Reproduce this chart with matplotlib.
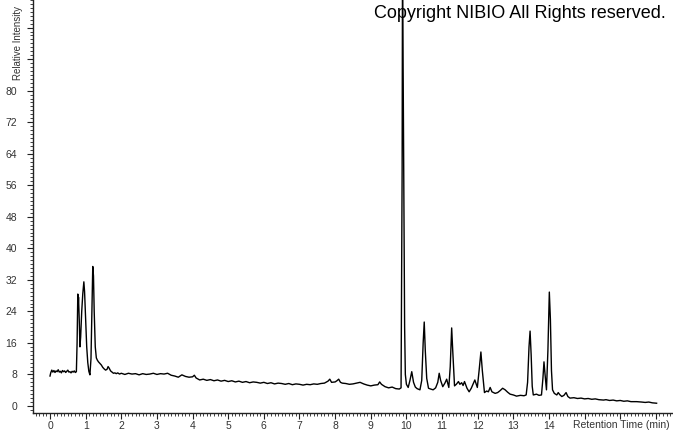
import matplotlib
matplotlib.use("Agg")
import matplotlib.pyplot as plt
from matplotlib.ticker import MultipleLocator, FixedLocator, FixedFormatter

# ---- data (retention time in min, relative intensity) ----
early_t = [0.00, 0.02, 0.05, 0.08, 0.11, 0.14, 0.17, 0.20, 0.23, 0.26, 0.29, 0.32, 0.35,
           0.38, 0.41, 0.44, 0.47, 0.50, 0.53, 0.56, 0.59, 0.62, 0.65, 0.68, 0.71, 0.74,
           0.76, 0.78, 0.79, 0.80, 0.82, 0.84, 0.86, 0.89, 0.92, 0.95, 0.97, 1.00, 1.03,
           1.06, 1.09, 1.12, 1.15, 1.18, 1.20, 1.22, 1.24, 1.27, 1.30, 1.33, 1.36, 1.40,
           1.44, 1.48, 1.52, 1.56, 1.60, 1.63, 1.66, 1.70, 1.74, 1.78, 1.82, 1.86, 1.90,
           1.95, 2.00]
early_i = [7.6, 8.4, 9.1, 8.6, 9.0, 8.5, 8.9, 8.7, 9.2, 8.6, 8.8, 8.4, 9.0,
           8.7, 8.9, 8.5, 8.8, 9.1, 8.6, 8.7, 8.4, 8.8, 8.6, 8.9, 8.5, 8.7,
           16.0, 28.4, 25.0, 27.6, 22.0, 15.0, 17.5, 24.0, 28.5, 31.5, 29.0, 22.0, 15.0,
           11.0, 8.8, 7.9, 12.0, 26.0, 35.4, 33.0, 24.0, 15.0, 12.2, 11.6, 11.2, 10.8,
           10.4, 9.8, 9.4, 9.1, 9.3, 10.0, 9.6, 8.9, 8.6, 8.3, 8.4, 8.2, 8.4,
           8.1, 8.3]

mid_t = [2.1, 2.2, 2.3, 2.4, 2.5, 2.6, 2.7, 2.8, 2.9, 3.0, 3.1, 3.2, 3.3, 3.4, 3.5, 3.6,
         3.7, 3.8, 3.9, 4.0, 4.05, 4.1, 4.2, 4.3, 4.4, 4.5, 4.6, 4.7, 4.8, 4.9, 5.0, 5.1,
         5.2, 5.3, 5.4, 5.5, 5.6, 5.7, 5.8, 5.9, 6.0, 6.1, 6.2, 6.3, 6.4, 6.5, 6.6, 6.7,
         6.8, 6.9, 7.0, 7.1, 7.2, 7.3, 7.4, 7.5, 7.6, 7.7, 7.8, 7.85, 7.9, 8.0, 8.05, 8.1,
         8.15, 8.2, 8.3, 8.4, 8.5, 8.6, 8.7, 8.8, 8.9, 9.0, 9.1, 9.2, 9.25, 9.3, 9.4, 9.5,
         9.6, 9.7, 9.8]
mid_i = [8.0, 8.3, 8.1, 8.2, 7.9, 8.2, 8.0, 8.1, 8.3, 8.0, 8.2, 8.1, 8.3, 7.8, 7.6, 7.3,
         7.9, 7.5, 7.3, 7.4, 7.8, 7.1, 6.6, 6.8, 6.5, 6.7, 6.4, 6.6, 6.3, 6.5, 6.2, 6.4,
         6.1, 6.3, 6.0, 6.2, 5.9, 6.1, 6.0, 5.8, 6.0, 5.7, 5.9, 5.6, 5.8, 5.7, 5.5, 5.7,
         5.4, 5.6, 5.5, 5.3, 5.5, 5.4, 5.6, 5.5, 5.7, 5.8, 6.3, 6.8, 6.0, 6.1, 6.4, 6.8,
         6.0, 5.8, 5.7, 5.5, 5.6, 5.8, 6.0, 5.6, 5.3, 5.1, 5.3, 5.4, 6.1, 5.5, 4.9, 4.6,
         4.8, 4.4, 4.3]

late_t = [9.85, 9.88, 9.89, 9.91, 9.93, 9.95, 9.97, 10.00, 10.05, 10.10, 10.15, 10.20,
          10.25, 10.30, 10.38, 10.43, 10.47, 10.50, 10.53, 10.57, 10.62, 10.68, 10.75,
          10.82, 10.88, 10.92, 10.96, 11.02, 11.08, 11.13, 11.19, 11.23, 11.27, 11.30,
          11.35, 11.40, 11.46, 11.50, 11.55, 11.59, 11.63, 11.70, 11.76, 11.82, 11.88,
          11.92, 11.99, 12.04, 12.09, 12.13, 12.19, 12.25, 12.30, 12.35, 12.40, 12.49,
          12.56, 12.63, 12.70, 12.77, 12.84, 12.91, 13.00, 13.09, 13.20, 13.30, 13.36,
          13.40, 13.44, 13.47, 13.50, 13.53, 13.56, 13.65, 13.72, 13.79, 13.83, 13.86,
          13.89, 13.93, 13.97, 14.01, 14.04, 14.07, 14.10, 14.15, 14.22, 14.26, 14.30,
          14.36, 14.42, 14.48, 14.53, 14.59]
late_i = [4.6, 60.0, 110.0, 83.0, 50.0, 20.0, 8.0, 5.5, 4.7, 6.5, 8.7, 6.0,
          4.8, 4.4, 4.1, 6.5, 16.0, 21.3, 14.0, 7.0, 4.5, 4.3, 4.1,
          4.6, 6.0, 8.3, 6.5, 4.9, 5.8, 6.8, 4.7, 10.0, 19.8, 14.0,
          5.1, 5.5, 6.2, 5.5, 5.9, 5.2, 6.2, 4.5, 3.6, 4.5, 5.8,
          6.6, 4.7, 9.0, 13.7, 9.0, 3.4, 3.8, 3.6, 4.7, 3.6, 3.2,
          3.4, 3.9, 4.5, 4.1, 3.5, 3.0, 2.8, 2.5, 2.7, 2.6, 2.8,
          6.0, 15.0, 19.0, 13.0, 5.0, 2.8, 3.0, 2.7, 2.8, 7.0, 11.2,
          8.0, 4.1, 14.0, 28.9, 22.0, 9.0, 4.1, 3.2, 2.8, 3.4, 2.9,
          2.4, 2.7, 3.4, 2.4, 2.0]

tail_t = [14.7, 14.8, 14.9, 15.0, 15.1, 15.2, 15.3, 15.4, 15.53, 15.6, 15.7, 15.8, 15.9,
          16.0, 16.1, 16.2, 16.3, 16.46, 16.6, 16.7, 16.8, 16.9, 17.02]
tail_i = [2.1, 1.9, 2.0, 1.8, 1.9, 1.7, 1.8, 1.6, 1.5, 1.6, 1.4, 1.5, 1.3,
          1.4, 1.2, 1.3, 1.1, 1.1, 1.0, 0.9, 1.0, 0.8, 0.7]

x_ticks = list(range(0, 18))
x_labels = [str(v) for v in range(0, 15)] + ["", "", ""]
y_ticks = [0, 8, 16, 24, 32, 40, 48, 56, 64, 72, 80, 88, 96]
y_labels = ["0", "8", "16", "24", "32", "40", "48", "56", "64", "72", "80", "", ""]

times = early_t + mid_t + late_t + tail_t
inten = early_i + mid_i + late_i + tail_i

plt.rcParams["font.family"] = ["Liberation Sans", "DejaVu Sans"]

fig = plt.figure(figsize=(6.73, 4.33), dpi=100)
ax = fig.add_axes([33 / 673, 20 / 433, 640 / 673, 413 / 433])
ax.plot(times, inten, color="black", lw=1.0)

ax.set_xlim(-0.477, 17.48)
ax.set_ylim(-1.78, 103.0)

for s in ["top", "right"]:
    ax.spines[s].set_visible(False)
for s in ["left", "bottom"]:
    ax.spines[s].set_color("#222222")
    ax.spines[s].set_linewidth(1.0)

ax.xaxis.set_major_locator(FixedLocator(x_ticks))
ax.xaxis.set_major_formatter(FixedFormatter(x_labels))
ax.xaxis.set_minor_locator(MultipleLocator(0.1))
ax.yaxis.set_major_locator(FixedLocator(y_ticks))
ax.yaxis.set_major_formatter(FixedFormatter(y_labels))
ax.yaxis.set_minor_locator(MultipleLocator(1))

ax.tick_params(axis="both", which="major", length=4.5, width=0.8, color="#222222",
               labelsize=7.5, labelcolor="#333333")
ax.tick_params(axis="both", which="minor", length=2.5, width=0.6, color="#222222")
ax.tick_params(axis="x", which="major", pad=1.5)
ax.tick_params(axis="y", which="major", pad=7)

fig.text(670 / 673, 1 - 425 / 433, "Retention Time (min)", fontsize=7.5,
         color="#333333", ha="right", va="center")
fig.text(18 / 673, 1 - 80 / 433, "Relative Intensity", fontsize=7, color="#333333",
         rotation=90, ha="center", va="bottom")
fig.text(666 / 673, 1 - 14 / 433, "Copyright NIBIO All Rights reserved.", fontsize=13,
         color="black", ha="right", va="center")

fig.savefig("out.png", dpi=100)
